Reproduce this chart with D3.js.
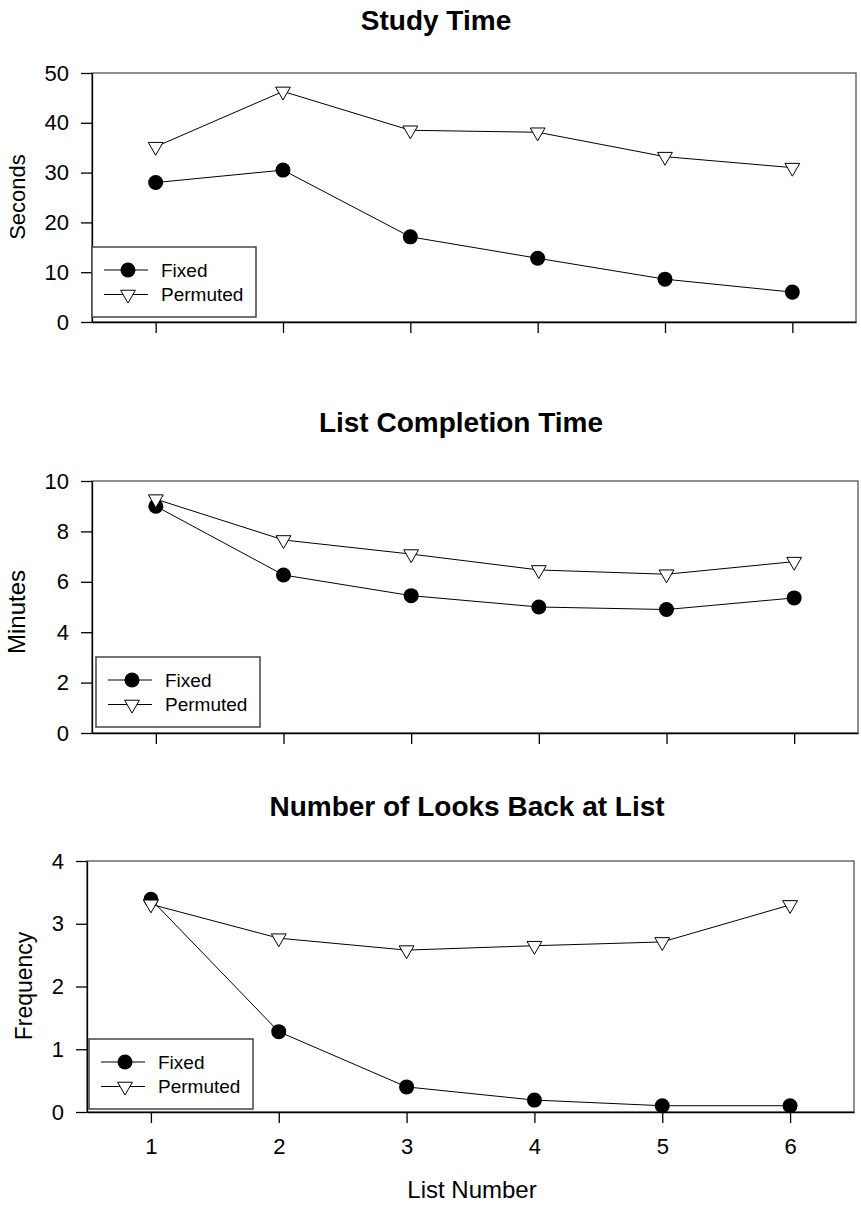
<!DOCTYPE html>
<html>
<head>
<meta charset="utf-8">
<script src="https://cdn.jsdelivr.net/npm/d3@7"></script>
<style>
  body { margin: 0; background: #fff; }
  svg text { font-family: "Liberation Sans", Arial, sans-serif; fill: #000; }
</style>
</head>
<body>
<div id="chart"></div>
<script>
var listNumbers = [1, 2, 3, 4, 5, 6];
var seriesNames = ["Fixed", "Permuted"];

// study time (seconds)
var studyFixed = [28.0, 30.5, 17.1, 12.8, 8.6, 6.0];
var studyPermuted = [35.2, 46.3, 38.5, 38.1, 33.2, 31.0];
var studyTicks = [0, 10, 20, 30, 40, 50];

// list completion time (minutes)
var completionFixed = [9.0, 6.27, 5.45, 5.0, 4.9, 5.36];
var completionPermuted = [9.28, 7.66, 7.1, 6.47, 6.3, 6.8];
var completionTicks = [0, 2, 4, 6, 8, 10];

// number of looks back at list
var looksFixed = [3.39, 1.28, 0.4, 0.19, 0.1, 0.1];
var looksPermuted = [3.31, 2.77, 2.58, 2.65, 2.71, 3.3];
var looksTicks = [0, 1, 2, 3, 4];

var svg = d3.select("#chart")
  .append("svg")
  .attr("width", 861)
  .attr("height", 1205);

var circleSym = d3.symbol().type(d3.symbolCircle).size(177);
var triSym = d3.symbol().type(d3.symbolTriangle).size(95);

function drawMarker(g, name, x, y) {
  if (name === "Fixed") {
    g.append("path")
      .attr("d", circleSym())
      .attr("transform", "translate(" + x + "," + y + ")")
      .attr("fill", "#000");
  } else {
    g.append("path")
      .attr("d", triSym())
      .attr("transform", "translate(" + x + "," + y + ") rotate(180)")
      .attr("fill", "#fff")
      .attr("stroke", "#000")
      .attr("stroke-width", 1);
  }
}

function drawPanel(p) {
  var x = d3.scaleLinear().domain([0.5, 6.5]).range([p.left, p.right]);
  var y = d3.scaleLinear().domain([0, d3.max(p.ticks)]).range([p.bottom, p.top]);

  // title
  svg.append("text")
    .attr("x", p.titleX)
    .attr("y", p.titleY)
    .attr("text-anchor", "middle")
    .style("font-size", "28px")
    .style("font-weight", "bold")
    .text(p.title);

  // frame (top + right are grey)
  svg.append("rect")
    .attr("x", p.left)
    .attr("y", p.top)
    .attr("width", p.right - p.left)
    .attr("height", p.bottom - p.top)
    .attr("fill", "none")
    .attr("stroke", "#555")
    .attr("stroke-width", 1.3);

  var yAxis = svg.append("g")
    .attr("transform", "translate(" + p.left + ",0)")
    .call(d3.axisLeft(y).tickValues(p.ticks).tickFormat(d3.format("d"))
      .tickSize(11).tickSizeOuter(0).tickPadding(12));
  yAxis.attr("font-size", null).attr("font-family", null);
  yAxis.selectAll("text").style("font-size", "22px");
  yAxis.selectAll("line, path").attr("stroke", "#000").attr("stroke-width", 1.3);

  var xAxis = svg.append("g")
    .attr("transform", "translate(0," + p.bottom + ")")
    .call(d3.axisBottom(x).tickValues(listNumbers).tickSize(11).tickSizeOuter(0).tickPadding(15)
      .tickFormat(p.xLabels ? d3.format("d") : function() { return ""; }));
  xAxis.attr("font-size", null).attr("font-family", null);
  xAxis.selectAll("text").style("font-size", "22px");
  xAxis.selectAll("line, path").attr("stroke", "#000").attr("stroke-width", 1.3);

  // y label
  svg.append("text")
    .attr("transform", "translate(" + p.ylabX + "," + p.ylabY + ") rotate(-90)")
    .attr("text-anchor", "middle")
    .attr("dy", "0.35em")
    .style("font-size", p.ylabSize + "px")
    .text(p.ylabel);

  var line = d3.line()
    .x(function(d, i) { return x(listNumbers[i]); })
    .y(function(d) { return y(d); });

  var series = [p.fixed, p.permuted];
  series.forEach(function(vals, k) {
    var g = svg.append("g");
    g.append("path")
      .attr("d", line(vals))
      .attr("fill", "none")
      .attr("stroke", "#000")
      .attr("stroke-width", 1);
    vals.forEach(function(v, i) {
      drawMarker(g, seriesNames[k], x(listNumbers[i]), y(v));
    });
  });

  // legend
  var lg = svg.append("g").attr("transform", "translate(" + (p.left + p.legDx) + "," + (p.bottom - p.legDy - 70) + ")");
  lg.append("rect")
    .attr("width", 164)
    .attr("height", 70)
    .attr("fill", "#fff")
    .attr("stroke", "#444")
    .attr("stroke-width", 1.5);
  seriesNames.forEach(function(name, k) {
    var ry = 23 + k * 24.5;
    lg.append("line")
      .attr("x1", 12).attr("x2", 56)
      .attr("y1", ry).attr("y2", ry)
      .attr("stroke", "#000")
      .attr("stroke-width", 1);
    drawMarker(lg, name, 36, ry);
    lg.append("text")
      .attr("x", 69)
      .attr("y", ry)
      .attr("dy", "0.35em")
      .style("font-size", "19px")
      .text(name);
  });
}

drawPanel({
  title: "Study Time", titleX: 436, titleY: 30,
  left: 92, right: 856, top: 73, bottom: 322,
  ticks: studyTicks, fixed: studyFixed, permuted: studyPermuted,
  ylabel: "Seconds", ylabX: 17, ylabY: 197, ylabSize: 22,
  legDx: 0, legDy: 5, xLabels: false
});

drawPanel({
  title: "List Completion Time", titleX: 461, titleY: 432,
  left: 92, right: 858, top: 481, bottom: 733,
  ticks: completionTicks, fixed: completionFixed, permuted: completionPermuted,
  ylabel: "Minutes", ylabX: 17, ylabY: 612, ylabSize: 24,
  legDx: 4, legDy: 6, xLabels: false
});

drawPanel({
  title: "Number of Looks Back at List", titleX: 467, titleY: 816,
  left: 87, right: 854, top: 861, bottom: 1112,
  ticks: looksTicks, fixed: looksFixed, permuted: looksPermuted,
  ylabel: "Frequency", ylabX: 24, ylabY: 986, ylabSize: 23,
  legDx: 2, legDy: 3, xLabels: true
});

svg.append("text")
  .attr("x", 472)
  .attr("y", 1198)
  .attr("text-anchor", "middle")
  .style("font-size", "24px")
  .text("List Number");
</script>
</body>
</html>
